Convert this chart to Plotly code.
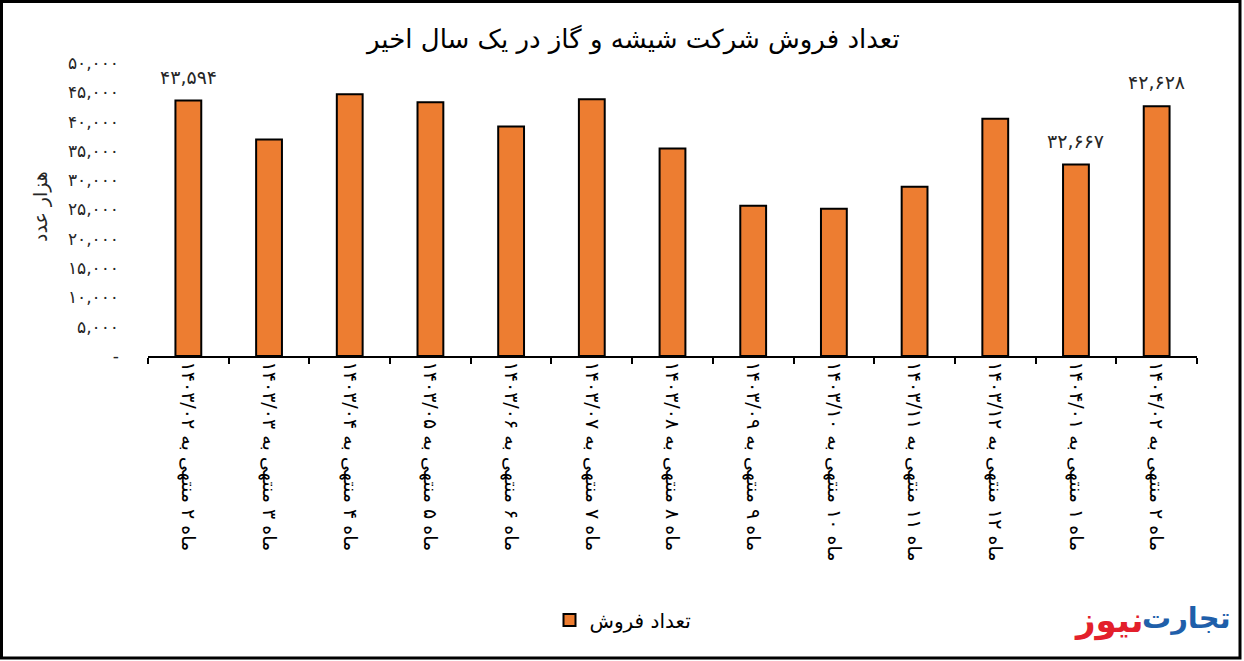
import plotly.graph_objects as go

categories = [
    "ماه ۲ منتهی به ۱۴۰۳/۰۲",
    "ماه ۳ منتهی به ۱۴۰۳/۰۳",
    "ماه ۴ منتهی به ۱۴۰۳/۰۴",
    "ماه ۵ منتهی به ۱۴۰۳/۰۵",
    "ماه ۶ منتهی به ۱۴۰۳/۰۶",
    "ماه ۷ منتهی به ۱۴۰۳/۰۷",
    "ماه ۸ منتهی به ۱۴۰۳/۰۸",
    "ماه ۹ منتهی به ۱۴۰۳/۰۹",
    "ماه ۱۰ منتهی به ۱۴۰۳/۱۰",
    "ماه ۱۱ منتهی به ۱۴۰۳/۱۱",
    "ماه ۱۲ منتهی به ۱۴۰۳/۱۲",
    "ماه ۱ منتهی به ۱۴۰۴/۰۱",
    "ماه ۲ منتهی به ۱۴۰۴/۰۲",
]
sales = [43594, 36950, 44660, 43290, 39180, 43800, 35410, 25650, 25140, 28900, 40500, 32667, 42628]
label_idx = [0, 11, 12]
label_text = ["۴۳,۵۹۴", "۳۲,۶۶۷", "۴۲,۶۲۸"]

ytick_vals = [0, 5000, 10000, 15000, 20000, 25000, 30000, 35000, 40000, 45000, 50000]
ytick_text = ["-", "۵,۰۰۰", "۱۰,۰۰۰", "۱۵,۰۰۰", "۲۰,۰۰۰", "۲۵,۰۰۰", "۳۰,۰۰۰",
              "۳۵,۰۰۰", "۴۰,۰۰۰", "۴۵,۰۰۰", "۵۰,۰۰۰"]

series_name = "تعداد فروش"
title_text = "تعداد فروش شرکت شیشه و گاز در یک سال اخیر"
ytitle = "هزار عدد"

FONT = "DejaVu Sans"
W, H = 1244, 661
L, R, T, B = 148, 47, 63, 305
pw, ph = W - L - R, H - T - B


def px_x(x):
    return (x - L) / pw


def px_y(y):
    return (T + ph - y) / ph


fig = go.Figure()
fig.add_trace(go.Bar(
    x=categories, y=sales, name=series_name,
    marker=dict(color="#ED7D31", line=dict(color="black", width=2)),
    width=0.32, showlegend=True,
))

annotations = []
for i, t in zip(label_idx, label_text):
    annotations.append(dict(x=categories[i], y=sales[i], xref="x", yref="y",
                            text=t, showarrow=False, yshift=24,
                            xanchor="center", yanchor="middle",
                            font=dict(family=FONT, size=19, color="#262626")))

annotations.append(dict(x=px_x(40), y=px_y(207), xref="paper", yref="paper",
                        xanchor="center", yanchor="middle",
                        text=ytitle, textangle=-90, showarrow=False,
                        font=dict(family=FONT, size=19, color="#262626")))
annotations.append(dict(x=px_x(632), y=px_y(40), xref="paper", yref="paper",
                        xanchor="center", yanchor="middle",
                        text=title_text, showarrow=False,
                        font=dict(family=FONT, size=26, color="black")))
# logo
annotations.append(dict(x=px_x(1233), y=px_y(618), xref="paper", yref="paper",
                        xanchor="right", yanchor="middle",
                        text="<b>تجارت</b>", showarrow=False,
                        font=dict(family=FONT, size=29, color="#1F5FAA")))
annotations.append(dict(x=px_x(1146), y=px_y(620), xref="paper", yref="paper",
                        xanchor="right", yanchor="middle",
                        text="<b>نیوز</b>", showarrow=False,
                        font=dict(family=FONT, size=34, color="#E3202B")))

fig.update_layout(
    width=W, height=H,
    margin=dict(l=L, r=R, t=T, b=B, pad=0),
    paper_bgcolor="white", plot_bgcolor="white",
    font=dict(family=FONT, color="black"),
    showlegend=True,
    legend=dict(orientation="h", x=px_x(623), xanchor="center",
                y=px_y(620), yanchor="middle",
                font=dict(family=FONT, size=20, color="black")),
    xaxis=dict(type="category", showline=True, linecolor="black", linewidth=1.5,
               ticks="outside", ticklen=6, tickcolor="black", tickwidth=1.5,
               tickson="boundaries", tickangle=90, showgrid=False,
               tickfont=dict(family=FONT, size=19, color="black")),
    yaxis=dict(range=[0, 50000], tickvals=ytick_vals, ticktext=ytick_text,
               showgrid=False, showline=False, zeroline=False,
               ticklabelstandoff=28,
               tickfont=dict(family=FONT, size=17, color="#262626")),
    annotations=annotations,
    shapes=[dict(type="rect", xref="paper", yref="paper",
                 x0=px_x(1.5), x1=px_x(1240),
                 y0=px_y(658), y1=px_y(1.5),
                 line=dict(color="black", width=3), fillcolor="rgba(0,0,0,0)")],
)

fig.write_html("out.html", config={"displayModeBar": False},
               post_script="document.body.style.margin='0';")
